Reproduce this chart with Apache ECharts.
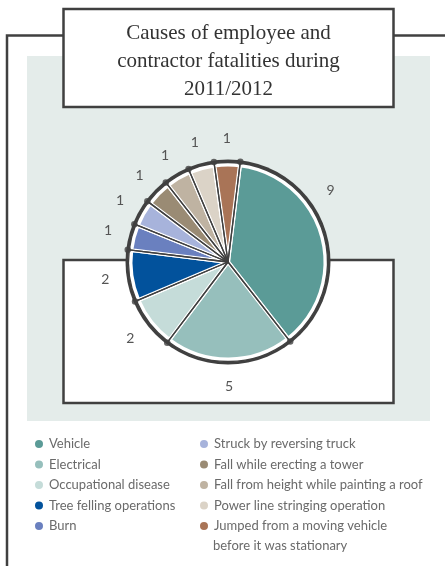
<!DOCTYPE html>
<html>
<head>
<meta charset="utf-8">
<script src="https://cdn.jsdelivr.net/npm/echarts@6/dist/echarts.min.js"></script>
<style>
  html, body { margin: 0; padding: 0; background: #fff; }
  #chart { width: 445px; height: 566px; }
</style>
</head>
<body>
<div id="chart"></div>
<script>
// Causes of fatalities and their counts
const causes = [
  'Vehicle',
  'Electrical',
  'Occupational disease',
  'Tree felling operations',
  'Burn',
  'Struck by reversing truck',
  'Fall while erecting a tower',
  'Fall from height while painting a roof',
  'Power line stringing operation',
  'Jumped from a moving vehicle before it was stationary'
];
const fatalities = [9, 5, 2, 2, 1, 1, 1, 1, 1, 1];
const sliceColors = [
  '#5b9b97', '#96bfbc', '#c5dcd9', '#02529c', '#6a80bf',
  '#a7b3db', '#9a8b74', '#bfb3a2', '#dbd3c7', '#a97457'
];
const titleLines = ['Causes of employee and', 'contractor fatalities during', '2011/2012'];
// the long legend entry is set on two lines
const longEntryLines = ['Jumped from a moving vehicle', 'before it was stationary'];

// Pie geometry
const CENTER = [228, 262];
const START_ANGLE = 83;
const INK = '#404040';
const LEGEND_TEXT = { fontFamily: 'Lato', fontSize: 13, color: '#6a6a6a' };

const total = fatalities.reduce((a, b) => a + b, 0);
// cumulative slice boundaries, used for the markers on the rim
const boundaries = [];
let running = 0;
fatalities.forEach(v => { boundaries.push(running); running += v; });

const sliceData = fatalities.map((v, i) => ({
  name: causes[i], value: v, itemStyle: { color: sliceColors[i] }
}));

const labelData = fatalities.map((v, i) => ({
  name: causes[i], value: v,
  itemStyle: { color: 'transparent' },
  label: i === 0 ? { offset: [-17, -38] } : {}
}));

const legendItem = (name, i) => ({ name: name, itemStyle: { color: sliceColors[i] } });

const legendBase = {
  orient: 'vertical',
  icon: 'circle',
  itemWidth: 10,
  itemHeight: 10,
  itemGap: 4.5,
  padding: 0,
  height: 200,
  selectedMode: false,
  textStyle: Object.assign({ lineHeight: 16 }, LEGEND_TEXT),
  formatter: name => name === causes[causes.length - 1] ? longEntryLines[0] : name
};

const chart = echarts.init(document.getElementById('chart'), null, { renderer: 'canvas' });

chart.setOption({
  animation: false,
  backgroundColor: '#ffffff',
  graphic: [
    { type: 'rect', z: -5, shape: { x: 27, y: 56, width: 403, height: 365 }, style: { fill: '#e4ecea' } },
    { type: 'rect', z: -4, shape: { x: 63.5, y: 260, width: 330, height: 143 },
      style: { fill: '#ffffff', stroke: INK, lineWidth: 2.5 } },
    { type: 'polyline', z: -4, shape: { points: [[7, 566], [7, 35.5], [64, 35.5]] },
      style: { fill: null, stroke: INK, lineWidth: 2.5 } },
    { type: 'line', z: -4, shape: { x1: 393, y1: 35.5, x2: 445, y2: 35.5 },
      style: { stroke: INK, lineWidth: 2.5 } },
    { type: 'rect', z: -3, shape: { x: 63.5, y: 9, width: 330, height: 98 },
      style: { fill: '#ffffff', stroke: INK, lineWidth: 2.5 } },
    { type: 'text', z: -2, x: 228.5, y: 19,
      style: { text: titleLines.join('\n'), fontFamily: 'Liberation Serif', fontSize: 21,
               lineHeight: 28, fill: '#333333', align: 'center', verticalAlign: 'top' } },
    { type: 'text', z: 5, x: 213, y: 546,
      style: { text: longEntryLines[1], fontFamily: LEGEND_TEXT.fontFamily, fontSize: LEGEND_TEXT.fontSize,
               fill: LEGEND_TEXT.color, align: 'left', verticalAlign: 'middle' } }
  ],
  legend: [
    Object.assign({}, legendBase, { left: 33, top: 436, data: causes.slice(0, 5).map((n, i) => legendItem(n, i)) }),
    Object.assign({}, legendBase, { left: 198, top: 436, data: causes.slice(5).map((n, i) => legendItem(n, i + 5)) })
  ],
  polar: { center: CENTER, radius: 101 },
  angleAxis: {
    type: 'value', min: 0, max: total, startAngle: START_ANGLE, clockwise: true,
    axisLine: { show: false }, axisTick: { show: false }, axisLabel: { show: false }, splitLine: { show: false }
  },
  radiusAxis: {
    type: 'value', min: 0, max: 1,
    axisLine: { show: false }, axisTick: { show: false }, axisLabel: { show: false }, splitLine: { show: false }
  },
  series: [
    // dark rim
    { type: 'pie', z: 1, silent: true, center: CENTER, radius: 102.5,
      data: [{ value: 1, itemStyle: { color: INK } }], label: { show: false }, labelLine: { show: false } },
    // white inner disc
    { type: 'pie', z: 1.5, silent: true, center: CENTER, radius: 99.5,
      data: [{ value: 1, itemStyle: { color: '#ffffff' } }], label: { show: false }, labelLine: { show: false } },
    // slices
    { type: 'pie', z: 2, silent: true, center: CENTER, radius: 97.5, startAngle: START_ANGLE, clockwise: true,
      data: sliceData, itemStyle: { borderColor: '#ffffff', borderWidth: 4 },
      label: { show: false }, labelLine: { show: false } },
    // dark separator lines
    { type: 'pie', z: 3, silent: true, center: CENTER, radius: 99.5, startAngle: START_ANGLE, clockwise: true,
      data: fatalities.map((v, i) => ({ name: causes[i], value: v })),
      itemStyle: { color: 'rgba(0,0,0,0)', borderColor: INK, borderWidth: 1.3 },
      label: { show: false }, labelLine: { show: false } },
    // value labels around the pie
    { type: 'pie', z: 3, silent: true, center: CENTER, radius: [112, 130], startAngle: START_ANGLE, clockwise: true,
      data: labelData,
      label: { show: true, position: 'inside', formatter: '{c}', color: '#555555', fontFamily: 'Lato', fontSize: 14 },
      labelLine: { show: false } },
    // markers on the rim at slice boundaries
    { type: 'scatter', z: 4, silent: true, coordinateSystem: 'polar',
      symbol: 'circle', symbolSize: 6.5, itemStyle: { color: INK },
      data: boundaries.map(b => [1, b]) }
  ]
});
</script>
</body>
</html>
